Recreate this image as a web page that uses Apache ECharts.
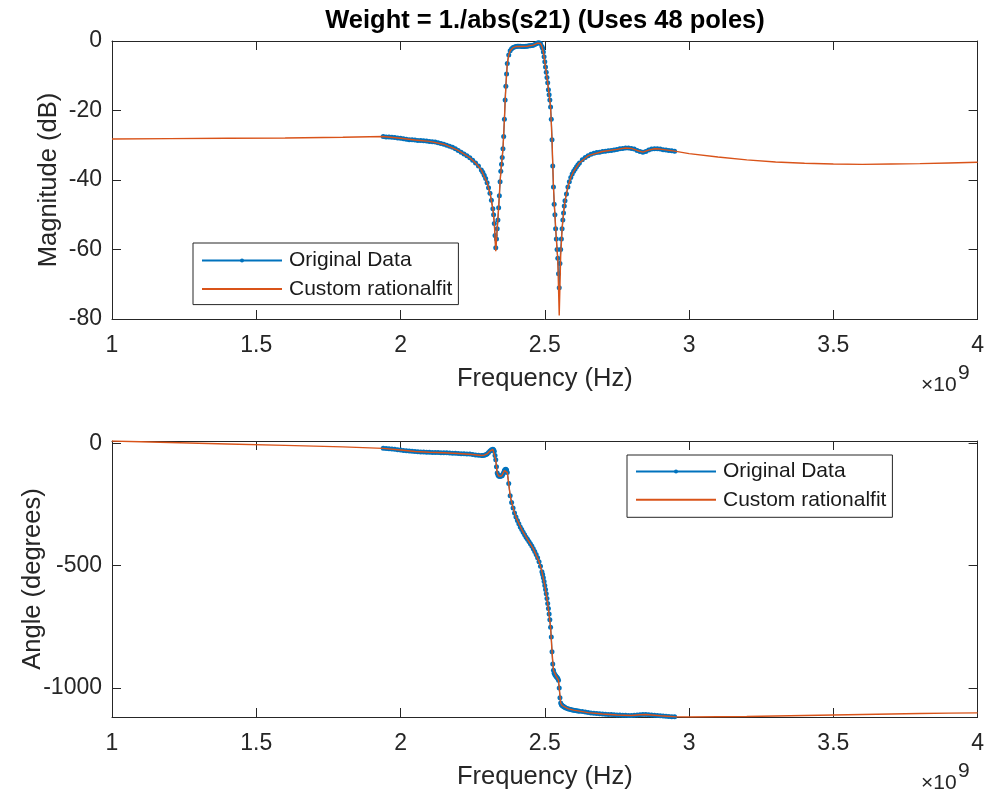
<!DOCTYPE html>
<html>
<head>
<meta charset="utf-8">
<script src="https://cdn.jsdelivr.net/npm/echarts@6/dist/echarts.min.js"></script>
<style>
html,body{margin:0;padding:0;background:#fff;}
#chart{width:987px;height:795px;}
</style>
</head>
<body>
<div id="chart"></div>
<script>
// ---- Measured data (frequency in units of 1e9 Hz) ----
const dataFreq = [
  1.94,1.95,1.96,1.97,1.98,1.99,2.00,2.01,2.02,2.03,2.04,2.05,2.06,2.07,2.08,2.09,2.10,2.11,2.12,2.13,2.14,2.15,2.16,2.17,2.18,2.19,2.20,2.21,2.22,2.23,2.24,2.25,2.26,2.27,2.28,
  2.285,2.29,2.295,2.30,2.305,2.31,2.315,2.32,
  2.3225,2.325,2.3275,2.33,2.3325,2.335,2.3375,2.34,2.3425,2.345,2.3475,2.35,2.3525,2.355,2.3575,2.36,2.3625,2.365,2.3675,2.37,
  2.375,2.38,2.385,2.39,2.395,2.40,2.405,2.41,2.415,2.42,2.425,2.43,2.435,2.44,2.445,2.45,2.455,2.46,2.465,2.47,2.475,2.48,2.485,2.49,
  2.4925,2.495,2.4975,2.50,2.5025,2.505,2.5075,2.51,2.5125,2.515,2.5175,2.52,2.5225,2.525,2.5275,2.53,2.5325,2.535,2.5375,2.54,2.5425,2.545,2.5475,2.55,2.5525,2.555,2.5575,2.56,2.5625,2.565,2.5675,2.57,
  2.575,2.58,2.585,2.59,2.595,2.60,2.605,2.61,2.615,2.62,
  2.63,2.64,2.65,2.66,2.67,2.68,2.69,2.70,2.71,2.72,2.73,2.74,2.75,2.76,2.77,2.78,2.79,2.80,2.81,2.82,2.83,2.84,2.85,2.86,2.87,2.88,2.89,2.90,2.91,2.92,2.93,2.94,2.95
];
const dataMag = [
  -27.5,-27.6,-27.6,-27.7,-27.8,-27.9,-28.0,-28.1,-28.3,-28.4,-28.4,-28.5,-28.6,-28.6,-28.7,-28.8,-28.9,-29.0,-29.1,-29.3,-29.5,-29.7,-30.0,-30.3,-30.6,-31.0,-31.5,-32.0,-32.5,-33.0,-33.6,-34.3,-35.1,-36.0,-37.1,
  -37.8,-38.6,-39.6,-40.8,-42.2,-43.8,-45.8,-48.3,
  -50.0,-52.5,-56.0,-59.5,-57.0,-54.0,-51.5,-48.0,-44.5,-40.5,-37.5,-35.5,-33.5,-31.0,-27.5,-22.5,-17.0,-13.0,-9.5,-6.5,
  -4.0,-2.8,-2.2,-1.9,-1.7,-1.6,-1.5,-1.5,-1.5,-1.6,-1.6,-1.6,-1.5,-1.5,-1.4,-1.4,-1.3,-1.2,-1.0,-0.8,-0.6,-0.5,-0.7,-1.6,
  -2.1,-3.2,-4.5,-6.0,-7.5,-9.0,-10.5,-12.0,-14.0,-15.5,-17.0,-19.0,-22.5,-28.4,-36.0,-42.0,-47.0,-50.0,-54.0,-57.0,-60.0,-62.5,-67.0,-71.0,-64.0,-60.0,-57.0,-54.0,-51.5,-49.5,-47.5,-46.0,
  -44.0,-42.0,-40.5,-39.3,-38.3,-37.5,-36.8,-36.2,-35.6,-35.1,
  -34.2,-33.5,-33.0,-32.6,-32.3,-32.1,-32.0,-31.8,-31.7,-31.6,-31.5,-31.4,-31.2,-31.0,-30.9,-30.8,-30.8,-30.9,-31.1,-31.5,-31.8,-32.0,-31.8,-31.4,-31.1,-31.0,-31.0,-31.1,-31.3,-31.4,-31.5,-31.6,-31.7
];
const dataPhase = [
  -21,-22,-23,-24,-25,-27,-28,-30,-31,-32,-33,-34,-35,-36,-36,-37,-37,-38,-38,-38,-39,-39,-39,-40,-41,-41,-42,-43,-43,-44,-44,-46,-48,-49,-50,
  -50,-49,-47,-44,-38,-32,-27,-25,
  -27,-33,-50,-68,-96,-122,-130,-134,-135,-135,-134,-134,-132,-126,-120,-112,-107,-106,-110,-120,
  -165,-215,-242,-265,-285,-302,-316,-329,-342,-353,-364,-374,-384,-393,-402,-411,-420,-431,-443,-455,-468,-484,-503,-525,
  -537,-550,-565,-582,-598,-615,-635,-655,-676,-698,-722,-752,-792,-852,-902,-928,-940,-946,-950,-954,-958,-962,-969,-1000,-1040,-1062,-1069,-1072,-1074,-1076,-1078,-1080,
  -1083,-1085,-1087,-1088,-1090,-1091,-1092,-1093,-1094,-1095,
  -1097,-1099,-1101,-1103,-1104,-1105,-1106,-1107,-1108,-1109,-1109,-1110,-1111,-1111,-1112,-1112,-1113,-1113,-1112,-1111,-1110,-1109,-1109,-1110,-1111,-1112,-1113,-1114,-1115,-1116,-1117,-1118,-1118
];

// ---- Rational fit ----
const fitFreqMag = [
  1.0,1.2,1.4,1.6,1.8,1.94,2.0,2.05,2.1,2.15,2.2,2.24,2.26,2.28,2.30,2.31,2.32,2.325,2.33,2.335,2.34,2.345,2.35,2.355,2.36,2.365,2.37,2.375,2.38,2.39,2.40,2.42,2.44,2.46,2.475,2.485,2.49,2.495,2.50,2.505,2.51,2.515,2.52,2.525,2.53,2.535,2.54,2.545,2.55,2.555,2.56,2.565,2.57,2.58,2.59,2.60,2.62,2.65,2.70,2.75,2.78,2.80,2.82,2.84,2.86,2.88,2.90,2.95,3.0,3.1,3.2,3.3,3.4,3.5,3.6,3.7,3.8,3.9,4.0
];
const fitMag = [
  -28.2,-28.1,-28.0,-27.9,-27.7,-27.5,-28.0,-28.5,-28.9,-29.7,-31.5,-33.6,-35.1,-37.1,-40.8,-43.8,-48.3,-52.5,-60.5,-54.0,-48.0,-40.5,-35.5,-31.0,-22.5,-13.0,-6.5,-4.0,-2.8,-1.9,-1.6,-1.6,-1.5,-1.2,-0.6,-0.7,-1.6,-3.2,-6.0,-9.0,-12.0,-15.5,-19.0,-28.4,-42.0,-50.0,-57.0,-63.0,-79.0,-62.0,-54.0,-49.5,-46.0,-42.0,-39.3,-37.5,-35.1,-33.0,-31.8,-31.2,-30.8,-30.9,-31.5,-32.0,-31.4,-31.0,-31.1,-31.7,-32.4,-33.4,-34.2,-34.8,-35.2,-35.4,-35.5,-35.4,-35.3,-35.1,-34.9
];
const fitFreqPhase = [
  1.0,1.2,1.4,1.6,1.8,1.94,2.0,2.05,2.1,2.15,2.2,2.25,2.28,2.29,2.30,2.31,2.32,2.325,2.33,2.335,2.34,2.35,2.355,2.36,2.365,2.37,2.375,2.38,2.39,2.40,2.42,2.44,2.46,2.48,2.49,2.50,2.51,2.52,2.525,2.53,2.54,2.5475,2.55,2.555,2.56,2.58,2.60,2.65,2.70,2.75,2.80,2.83,2.85,2.90,2.95,3.0,3.1,3.2,3.3,3.4,3.5,3.6,3.7,3.8,3.9,4.0
];
const fitPhase = [
  9,3,-3,-9,-15,-21,-28,-34,-37,-39,-42,-46,-50,-49,-44,-32,-25,-33,-68,-122,-134,-134,-126,-112,-106,-120,-165,-215,-265,-302,-353,-393,-431,-484,-525,-582,-655,-752,-852,-928,-954,-969,-1000,-1062,-1072,-1085,-1091,-1101,-1107,-1111,-1113,-1110,-1109,-1114,-1118,-1119,-1118,-1117,-1115,-1113,-1111,-1109,-1107,-1105,-1103,-1102
];

// ---- Axis ticks ----
const freqTicks = [1, 1.5, 2, 2.5, 3, 3.5, 4];
const magTicks = [-80, -60, -40, -20, 0];
const phaseTicks = [-1000, -500, 0];

const seriesNames = ['Original Data', 'Custom rationalfit'];
const titleText = 'Weight = 1./abs(s21) (Uses 48 poles)';

const FONT = 'Liberation Sans, Arial, Helvetica, sans-serif';
const AX = '#262626';
const BLUE = '#0072BD';
const ORANGE = '#D95319';

const zip = (xs, ys) => xs.map((x, i) => [x, ys[i]]);

function xAxes(gi) {
  const base = {
    gridIndex: gi, type: 'value', min: freqTicks[0], max: freqTicks[freqTicks.length - 1], interval: 0.5,
    axisLine: { show: true, onZero: false, lineStyle: { color: AX, width: 1 } },
    axisTick: { show: true, inside: true, length: 9, lineStyle: { color: AX } },
    splitLine: { show: false }
  };
  return [
    Object.assign({}, base, {
      position: 'bottom',
      axisLabel: { color: AX, fontSize: 23, fontFamily: FONT, margin: 15, formatter: v => String(v) },
      name: 'Frequency (Hz)', nameLocation: 'middle', nameGap: 47,
      nameTextStyle: { color: AX, fontSize: 25.5, fontFamily: FONT }
    }),
    Object.assign({}, base, { position: 'top', axisLabel: { show: false } })
  ];
}

function yAxes(gi, min, max, ticks, name, gap) {
  const base = {
    gridIndex: gi, type: 'value', min: min, max: max,
    axisLine: { show: true, onZero: false, lineStyle: { color: AX, width: 1 } },
    axisTick: { show: true, inside: true, length: 9, lineStyle: { color: AX }, customValues: ticks },
    splitLine: { show: false }
  };
  return [
    Object.assign({}, base, {
      position: 'left',
      axisLabel: { color: AX, fontSize: 23, fontFamily: FONT, margin: 10, customValues: ticks, formatter: v => String(v) },
      name: name, nameLocation: 'middle', nameGap: gap, nameRotate: 90, nameMoveOverlap: false,
      nameTextStyle: { color: AX, fontSize: 25.5, fontFamily: FONT }
    }),
    Object.assign({}, base, { position: 'right', axisLabel: { show: false } })
  ];
}

function legend(left, top, padding, gap) {
  return {
    orient: 'vertical', left: left, top: top, padding: padding, itemGap: gap,
    itemWidth: 80, itemHeight: 5,
    backgroundColor: '#fff', borderColor: AX, borderWidth: 1, borderRadius: 0,
    textStyle: { color: '#1a1a1a', fontSize: 21, fontFamily: FONT, lineHeight: 21, padding: [0, 0, 0, 2] },
    data: [
      { name: seriesNames[0] },
      { name: seriesNames[1], itemStyle: { opacity: 0 } }
    ]
  };
}

function dataSeries(gi, data) {
  return {
    name: seriesNames[0], type: 'line', xAxisIndex: gi * 2, yAxisIndex: gi * 2, data: data,
    symbol: 'circle', symbolSize: 5, showSymbol: true,
    lineStyle: { color: BLUE, width: 1.2 }, itemStyle: { color: BLUE },
    z: 2, silent: true
  };
}
function fitSeries(gi, data) {
  return {
    name: seriesNames[1], type: 'line', xAxisIndex: gi * 2, yAxisIndex: gi * 2, data: data,
    symbol: 'none', lineStyle: { color: ORANGE, width: 1.4 }, itemStyle: { color: ORANGE },
    z: 3, silent: true
  };
}

const option = {
  animation: false,
  backgroundColor: '#fff',
  title: {
    text: titleText, left: 545, top: 8, padding: 0, textAlign: 'center',
    textStyle: { color: '#000', fontSize: 25.5, fontWeight: 'bold', fontFamily: FONT }
  },
  grid: [
    { left: 112, top: 41, width: 866, height: 278, containLabel: false },
    { left: 112, top: 441, width: 866, height: 276, containLabel: false }
  ],
  xAxis: [...xAxes(0), ...xAxes(1)],
  yAxis: [
    ...yAxes(0, magTicks[0], magTicks[magTicks.length - 1], magTicks, 'Magnitude (dB)', 50),
    ...yAxes(1, -1119, 9, phaseTicks, 'Angle (degrees)', 66)
  ],
  legend: [
    legend(193, 243, [7, 6, 5, 8], 7.6),
    legend(627, 455, [6, 6, 7, 8], 7.3)
  ],
  series: [
    dataSeries(0, zip(dataFreq, dataMag)),
    fitSeries(0, zip(fitFreqMag, fitMag)),
    dataSeries(1, zip(dataFreq, dataPhase)),
    fitSeries(1, zip(fitFreqPhase, fitPhase))
  ],
  graphic: [
    { type: 'text', x: 921, y: 385, style: { text: '×10', font: '21px ' + FONT, fill: AX, verticalAlign: 'middle' } },
    { type: 'text', x: 958, y: 373, style: { text: '9', font: '21px ' + FONT, fill: AX, verticalAlign: 'middle' } },
    { type: 'text', x: 921, y: 783, style: { text: '×10', font: '21px ' + FONT, fill: AX, verticalAlign: 'middle' } },
    { type: 'text', x: 958, y: 771, style: { text: '9', font: '21px ' + FONT, fill: AX, verticalAlign: 'middle' } }
  ]
};

const chart = echarts.init(document.getElementById('chart'), null, { renderer: 'canvas' });
chart.setOption(option);
</script>
</body>
</html>
